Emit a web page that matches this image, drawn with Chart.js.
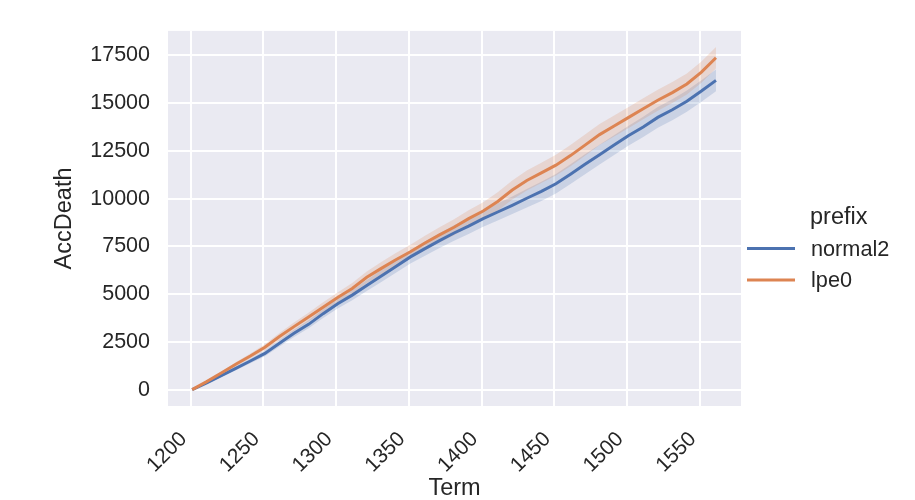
<!DOCTYPE html>
<html>
<head>
<meta charset="utf-8">
<script src="https://cdn.jsdelivr.net/npm/chart.js@4/dist/chart.umd.min.js"></script>
<style>
  body { margin: 0; background: #ffffff; }
  #wrap { width: 915px; height: 500px; }
</style>
</head>
<body>
<div id="wrap"><canvas id="accChart" width="915" height="500"></canvas></div>
<script>
// Term values (x)
const terms = [1201, 1211, 1221, 1231, 1241, 1251, 1261, 1271, 1281, 1291,
               1301, 1311, 1321, 1331, 1341, 1351, 1361, 1371, 1381, 1391,
               1401, 1411, 1421, 1431, 1441, 1451, 1461, 1471, 1481, 1491,
               1501, 1511, 1521, 1531, 1541, 1551, 1561];

// mean AccDeath per prefix
const normal2 = [0, 350, 740, 1120, 1500, 1900, 2430, 2950, 3420, 3980,
                 4500, 4950, 5450, 5950, 6450, 6950, 7380, 7800, 8200, 8560,
                 8950, 9300, 9650, 10020, 10380, 10780, 11280, 11800, 12300, 12800,
                 13300, 13750, 14250, 14650, 15100, 15630, 16190];
const lpe0 = [0, 420, 870, 1330, 1760, 2220, 2780, 3300, 3800, 4320,
              4820, 5300, 5880, 6350, 6800, 7220, 7680, 8100, 8500, 8950,
              9350, 9850, 10450, 10950, 11350, 11750, 12250, 12800, 13350, 13800,
              14250, 14700, 15150, 15550, 16000, 16620, 17370];

// half width of the confidence band
const normal2Ci = [0, 40, 70, 100, 120, 150, 170, 190, 210, 230,
                   250, 270, 290, 310, 330, 350, 370, 390, 400, 410,
                   420, 440, 460, 480, 500, 510, 520, 520, 520, 520,
                   520, 530, 540, 550, 560, 560, 570];
const lpe0Ci = [0, 40, 70, 100, 130, 160, 190, 210, 230, 250,
                270, 290, 310, 330, 350, 360, 380, 400, 420, 440,
                460, 480, 500, 520, 530, 540, 550, 550, 550, 550,
                550, 550, 550, 550, 550, 550, 560];

const xTicks = [1200, 1250, 1300, 1350, 1400, 1450, 1500, 1550];
const yTicks = [0, 2500, 5000, 7500, 10000, 12500, 15000, 17500];

const BLUE = '#4c72b0';
const ORANGE = '#dd8452';
const TXT = '#262626';
const FONT = '"Liberation Sans", Arial, sans-serif';

function pts(vals, off, sign) {
    return terms.map((t, i) => ({ x: t, y: vals[i] + (off ? sign * off[i] : 0) }));
}

const bgPlugin = {
    id: 'bg',
    beforeDraw(chart) {
        const a = chart.chartArea;
        const ctx = chart.ctx;
        ctx.save();
        ctx.fillStyle = '#eaeaf2';
        ctx.fillRect(a.left, a.top, a.right - a.left, a.bottom - a.top);
        ctx.restore();
    }
};

const legendPlugin = {
    id: 'sideLegend',
    afterDraw(chart) {
        const ctx = chart.ctx;
        ctx.save();
        ctx.fillStyle = TXT;
        ctx.textAlign = 'left';
        ctx.textBaseline = 'alphabetic';
        ctx.font = '23.5px ' + FONT;
        ctx.fillText('prefix', 810, 224);
        ctx.font = '21.7px ' + FONT;
        const items = [['normal2', BLUE, 248.5, 256], ['lpe0', ORANGE, 280, 287]];
        items.forEach(([name, col, ly, ty]) => {
            ctx.strokeStyle = col;
            ctx.lineWidth = 3;
            ctx.beginPath();
            ctx.moveTo(747, ly);
            ctx.lineTo(795, ly);
            ctx.stroke();
            ctx.fillText(name, 811, ty);
        });
        ctx.restore();
    }
};

const ctx = document.getElementById('accChart').getContext('2d');
new Chart(ctx, {
    type: 'line',
    data: {
        datasets: [
            { label: 'lpe0', data: pts(lpe0), borderColor: ORANGE, borderWidth: 3, pointRadius: 0, fill: false },
            { label: 'normal2', data: pts(normal2), borderColor: BLUE, borderWidth: 3, pointRadius: 0, fill: false },
            { label: 'lpe0 lo', data: pts(lpe0, lpe0Ci, -1), borderWidth: 0, pointRadius: 0, fill: false },
            { label: 'lpe0 hi', data: pts(lpe0, lpe0Ci, 1), borderWidth: 0, pointRadius: 0,
              fill: '-1', backgroundColor: 'rgba(221, 132, 82, 0.2)' },
            { label: 'normal2 lo', data: pts(normal2, normal2Ci, -1), borderWidth: 0, pointRadius: 0, fill: false },
            { label: 'normal2 hi', data: pts(normal2, normal2Ci, 1), borderWidth: 0, pointRadius: 0,
              fill: '-1', backgroundColor: 'rgba(76, 114, 176, 0.2)' }
        ]
    },
    options: {
        responsive: false,
        animation: false,
        layout: { padding: { left: 53, top: 27, right: 174, bottom: 0 } },
        plugins: {
            legend: { display: false },
            tooltip: { enabled: false }
        },
        scales: {
            x: {
                type: 'linear',
                min: 1184.4,
                max: 1578.2,
                afterBuildTicks: s => { s.ticks = xTicks.map(v => ({ value: v })); },
                afterFit: s => { s.height = 94; },
                grid: { color: '#ffffff', lineWidth: 2, drawTicks: false },
                border: { display: false },
                ticks: {
                    color: TXT, font: { family: FONT, size: 21 },
                    maxRotation: 45, minRotation: 45, padding: 21, labelOffset: -7,
                    callback: v => String(v)
                },
                title: {
                    display: true, text: 'Term', color: TXT,
                    font: { family: FONT, size: 23.5, lineHeight: 1 }, padding: 0
                }
            },
            y: {
                min: -854,
                max: 18778,
                afterBuildTicks: s => { s.ticks = yTicks.map(v => ({ value: v })); },
                afterFit: s => { s.width = 115; },
                grid: { color: '#ffffff', lineWidth: 2, drawTicks: false },
                border: { display: false },
                ticks: {
                    color: TXT, font: { family: FONT, size: 21.5 }, padding: 18,
                    callback: v => String(v)
                },
                title: {
                    display: true, text: 'AccDeath', color: TXT,
                    font: { family: FONT, size: 23.5, lineHeight: 1 }, padding: 0
                }
            }
        }
    },
    plugins: [bgPlugin, legendPlugin]
});
</script>
</body>
</html>
